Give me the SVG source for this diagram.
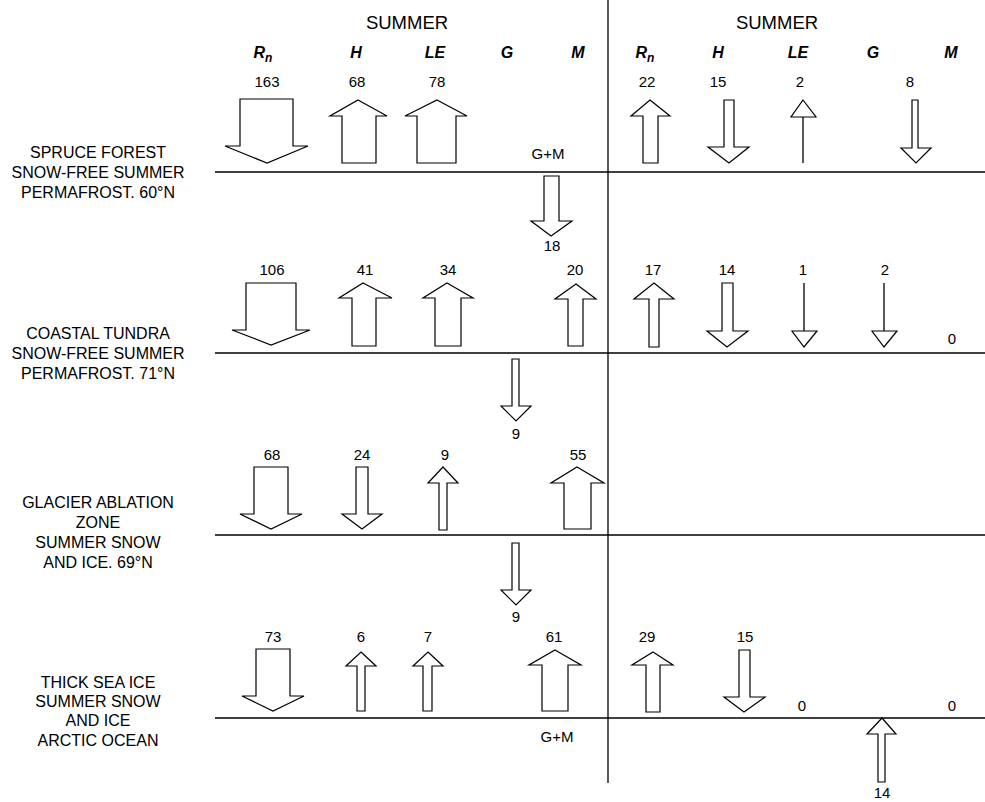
<svg xmlns="http://www.w3.org/2000/svg" width="985" height="802" viewBox="0 0 985 802">
<style>
text{font-family:"Liberation Sans",Arial,sans-serif;fill:#000;text-anchor:middle}
.lab{font-size:16px}
.num{font-size:15px}
.hd{font-size:18.5px}
.col{font-size:16px;font-weight:bold;font-style:italic}
.sub{font-size:12px}
.arr{fill:#fff;stroke:#000;stroke-width:1.2;stroke-linejoin:miter}
.ln{stroke:#000;stroke-width:1.3;fill:none}
</style>
<rect width="985" height="802" fill="#fff"/>
<g id="connectors">
<line class="ln" x1="608" y1="0" x2="608" y2="783"/>
<line class="ln" x1="215" y1="172" x2="985" y2="172"/>
<line class="ln" x1="215" y1="353" x2="985" y2="353"/>
<line class="ln" x1="215" y1="535" x2="985" y2="535"/>
<line class="ln" x1="215" y1="718" x2="985" y2="718"/>
</g>
<g id="header">
<text class="hd" x="407" y="29">SUMMER</text>
<text class="hd" x="777" y="29">SUMMER</text>
<text class="col" x="263" y="58">R<tspan class="sub" dy="4">n</tspan></text>
<text class="col" x="356" y="58">H</text>
<text class="col" x="435" y="58">LE</text>
<text class="col" x="507" y="58">G</text>
<text class="col" x="578" y="58">M</text>
<text class="col" x="645" y="58">R<tspan class="sub" dy="4">n</tspan></text>
<text class="col" x="718" y="58">H</text>
<text class="col" x="798" y="58">LE</text>
<text class="col" x="873" y="58">G</text>
<text class="col" x="951" y="58">M</text>
</g>
<g id="row-spruce">
<text class="lab" x="98" y="158">SPRUCE FOREST</text>
<text class="lab" x="98" y="178">SNOW-FREE SUMMER</text>
<text class="lab" x="98" y="198">PERMAFROST. 60°N</text>
<text class="num" x="267" y="87">163</text>
<text class="num" x="357" y="87">68</text>
<text class="num" x="437" y="87">78</text>
<text class="num" x="647" y="87">22</text>
<text class="num" x="718" y="87">15</text>
<text class="num" x="800" y="87">2</text>
<text class="num" x="910" y="87">8</text>
<text class="num" x="548" y="159">G+M</text>
<text class="num" x="552" y="251">18</text>
<polygon class="arr" points="240,99 293,99 293,146 308,146 267,163 225,146 240,146"/>
<polygon class="arr" points="358,100 387,116 376,116 376,163 342,163 342,116 330,116"/>
<polygon class="arr" points="437,100 467,116 456,116 456,163 417,163 417,116 405,116"/>
<polygon class="arr" points="544,176 559,176 559,221 572,221 551,236 531,221 544,221"/>
<polygon class="arr" points="650,100 670,116 658,116 658,163 643,163 643,116 631,116"/>
<polygon class="arr" points="724,100 734,100 734,147 749,147 729,163 708,147 724,147"/>
<polygon class="arr" points="803,100 816,117 791,117"/>
<line class="ln" x1="803" y1="117" x2="803" y2="163"/>
<polygon class="arr" points="912,100 918,100 918,148 931,148 916,163 901,148 912,148"/>
</g>
<g id="row-tundra">
<text class="lab" x="98" y="339">COASTAL TUNDRA</text>
<text class="lab" x="98" y="359">SNOW-FREE SUMMER</text>
<text class="lab" x="98" y="379">PERMAFROST. 71°N</text>
<text class="num" x="272" y="275">106</text>
<text class="num" x="365" y="275">41</text>
<text class="num" x="448" y="275">34</text>
<text class="num" x="575" y="275">20</text>
<text class="num" x="653" y="275">17</text>
<text class="num" x="727" y="275">14</text>
<text class="num" x="803" y="275">1</text>
<text class="num" x="885" y="275">2</text>
<text class="num" x="952" y="344">0</text>
<text class="num" x="516" y="439">9</text>
<polygon class="arr" points="246,283 296,283 296,330 310,330 271,345 232,330 246,330"/>
<polygon class="arr" points="363,283 392,298 376,298 376,346 352,346 352,298 339,298"/>
<polygon class="arr" points="447,283 473,298 461,298 461,346 435,346 435,298 423,298"/>
<polygon class="arr" points="576,284 596,299 583,299 583,346 568,346 568,299 555,299"/>
<polygon class="arr" points="512,359 519,359 519,406 531,406 516,421 501,406 512,406"/>
<polygon class="arr" points="654,283 674,299 659,299 659,347 649,347 649,299 634,299"/>
<polygon class="arr" points="722,283 733,283 733,331 748,331 727,347 707,331 722,331"/>
<line class="ln" x1="804" y1="283" x2="804" y2="331"/>
<polygon class="arr" points="792,331 817,331 804,347"/>
<line class="ln" x1="884" y1="283" x2="884" y2="331"/>
<polygon class="arr" points="872,331 897,331 884,347"/>
</g>
<g id="row-glacier">
<text class="lab" x="98" y="508">GLACIER ABLATION</text>
<text class="lab" x="98" y="528">ZONE</text>
<text class="lab" x="98" y="548">SUMMER SNOW</text>
<text class="lab" x="98" y="568">AND ICE. 69°N</text>
<text class="num" x="272" y="460">68</text>
<text class="num" x="362" y="460">24</text>
<text class="num" x="445" y="460">9</text>
<text class="num" x="578" y="460">55</text>
<text class="num" x="516" y="622">9</text>
<polygon class="arr" points="254,467 288,467 288,514 302,514 271,529 240,514 254,514"/>
<polygon class="arr" points="356,467 368,467 368,514 382,514 362,529 342,514 356,514"/>
<polygon class="arr" points="443,467 458,483 447,483 447,530 439,530 439,483 428,483"/>
<polygon class="arr" points="577,467 604,483 591,483 591,529 564,529 564,483 551,483"/>
<polygon class="arr" points="512,543 519,543 519,590 531,590 516,605 501,590 512,590"/>
</g>
<g id="row-seaice">
<text class="lab" x="98" y="688">THICK SEA ICE</text>
<text class="lab" x="98" y="707">SUMMER SNOW</text>
<text class="lab" x="98" y="726">AND ICE</text>
<text class="lab" x="98" y="746">ARCTIC OCEAN</text>
<text class="num" x="273" y="642">73</text>
<text class="num" x="361" y="642">6</text>
<text class="num" x="428" y="642">7</text>
<text class="num" x="554" y="642">61</text>
<text class="num" x="647" y="642">29</text>
<text class="num" x="745" y="642">15</text>
<text class="num" x="802" y="711">0</text>
<text class="num" x="952" y="711">0</text>
<text class="num" x="557" y="742">G+M</text>
<text class="num" x="882" y="798">14</text>
<polygon class="arr" points="256,649 290,649 290,696 304,696 273,711 242,696 256,696"/>
<polygon class="arr" points="361,652 376,666 365,666 365,711 357,711 357,666 346,666"/>
<polygon class="arr" points="428,652 443,666 432,666 432,711 423,711 423,666 413,666"/>
<polygon class="arr" points="555,650 581,665 568,665 568,711 542,711 542,665 529,665"/>
<polygon class="arr" points="653,652 673,665 660,665 660,712 646,712 646,665 632,665"/>
<polygon class="arr" points="739,650 750,650 750,697 765,697 744,712 724,697 739,697"/>
<polygon class="arr" points="882,718 896,734 885,734 885,782 878,782 878,734 867,734"/>
</g>
</svg>
